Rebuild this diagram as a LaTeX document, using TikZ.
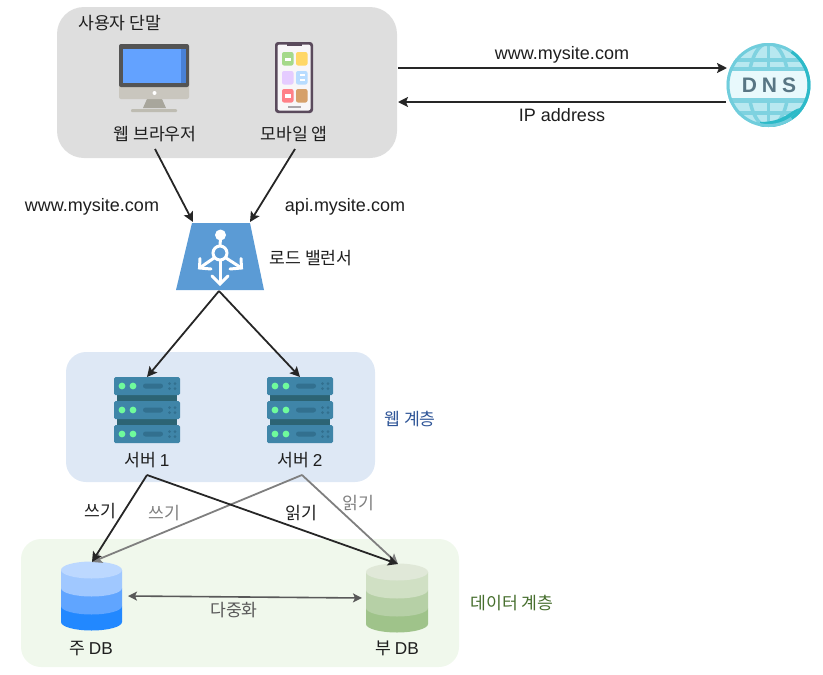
\documentclass[tikz,border=0pt]{standalone}
\usepackage{fontspec}
\setmainfont{Noto Sans CJK KR}
\newfontfamily\lat{Liberation Sans}
\usetikzlibrary{arrows.meta,calc}
\definecolor{txt}{HTML}{1E1E1E}
\definecolor{wire}{HTML}{262626}
\definecolor{greywire}{HTML}{7F7F7F}
\definecolor{dupwire}{HTML}{595959}
\definecolor{srvdark}{HTML}{2C6474}
\definecolor{srvbody}{HTML}{3F85A8}
\definecolor{srvled}{HTML}{6FFB9C}
\definecolor{srvbar}{HTML}{32708F}
\definecolor{mA}{HTML}{BCD8FF}\definecolor{mB}{HTML}{A0C8FF}\definecolor{mC}{HTML}{60A5FF}\definecolor{mD}{HTML}{2288FF}
\definecolor{sA}{HTML}{E0E8D8}\definecolor{sB}{HTML}{D0E0C4}\definecolor{sC}{HTML}{B6D0A6}\definecolor{sD}{HTML}{9FC38A}
\definecolor{globeL}{HTML}{B8E8F0}\definecolor{globeW}{HTML}{E8F9FC}\definecolor{globeG}{HTML}{7FD2E0}\definecolor{globeT}{HTML}{2CBAC8}
\definecolor{globeE}{HTML}{70CDDC}\definecolor{lbblue}{HTML}{5B9BD5}
\definecolor{termbg}{HTML}{DEDEDE}\definecolor{webbg}{HTML}{DEE8F5}\definecolor{databg}{HTML}{F0F8EC}
\definecolor{webtxt}{HTML}{2F5597}\definecolor{datatxt}{HTML}{466E2D}
\tikzset{
  x=1pt,y=-1pt,
  lbl/.style={font=\fontsize{17.2}{20}\selectfont,text=txt,inner sep=0pt,yshift=-1.5pt},
  lbllat/.style={font=\fontsize{18}{20}\selectfont\lat,text=txt,inner sep=0pt,yshift=-2pt},
  tier/.style={inner sep=0pt,outer sep=0pt},
  conn/.style={draw=wire,line width=1.8pt,-{Stealth[length=10pt,width=10pt,inset=2pt]}},
  connG/.style={draw=greywire,line width=1.8pt,-{Stealth[length=10pt,width=10pt,inset=2pt]}},
  connD/.style={draw=dupwire,line width=1.6pt,{Stealth[length=9pt,width=9pt,inset=2pt]}-{Stealth[length=9pt,width=9pt,inset=2pt]}},
  icn/.style={white,line width=3pt},
}
\newcommand{\srvicon}[1]{%
  \begin{scope}[xshift=#1 pt]
    \fill[srvdark] (3,395) rectangle (63,401);
    \fill[srvdark] (3,419) rectangle (63,425);
    \foreach \t in {377,401,425}{
      \fill[srvbody,rounded corners=1.5pt] (0,\t) rectangle (66,\t+18);
      \fill[srvled] (8,\t+9) circle (3.4);
      \fill[srvled] (19,\t+9) circle (3.4);
      \fill[srvbar,rounded corners=2.5pt] (29,\t+6.5) rectangle (49,\t+11.5);
      \foreach \dx in {55.5,61}{\foreach \dy in {6.5,11.5}{\fill[srvbar] (\dx,\t+\dy) circle (1.5);}}
    }
  \end{scope}}
\newcommand{\cyl}[7]{%
  \pgfmathsetmacro{\rx}{(#2-#1)/2}
  \fill[#7D] (#1,#5) -- (#1,#6) arc[start angle=180,end angle=0,x radius=\rx,y radius=8.5] -- (#2,#5) -- cycle;
  \fill[#7C] (#1,#4) -- (#1,#5) arc[start angle=180,end angle=0,x radius=\rx,y radius=8.5] -- (#2,#4) -- cycle;
  \fill[#7B] (#1,#3) -- (#1,#4) arc[start angle=180,end angle=0,x radius=\rx,y radius=8.5] -- (#2,#3) -- cycle;
  \fill[#7A] ({(#1+#2)/2},#3) ellipse[x radius=\rx,y radius=8.5];
}
\begin{document}
\begin{tikzpicture}
\useasboundingbox (0,0) rectangle (823,675);
% tiers
\node[tier,fill=termbg,rounded corners=27pt,minimum width=340pt,minimum height=151pt] (term) at (227,82.5) {};
\node[tier,fill=webbg,rounded corners=20pt,minimum width=309pt,minimum height=130pt] (webtier) at (220.5,417) {};
\node[tier,fill=databg,rounded corners=20pt,minimum width=438pt,minimum height=128pt] (datatier) at (240,603) {};

% monitor
\node[tier,minimum width=70pt,minimum height=68pt] (browser) at (154,78) {};
\fill[fill={rgb,255:red,168;green,166;blue,156}] (147,99) -- (162,99) -- (166,108) -- (143,108) -- cycle;
\fill[fill={rgb,255:red,190;green,188;blue,178},rounded corners=1pt] (131,109) rectangle (177,112);
\fill[fill={rgb,255:red,201;green,198;blue,190},rounded corners=2pt] (119,80) rectangle (189,99);
\fill[fill={rgb,255:red,84;green,84;blue,84},rounded corners=2pt] (119,44) rectangle (189,87);
\fill[fill={rgb,255:red,99;green,162;blue,255}] (123,49) rectangle (186,82.5);
\fill[fill={rgb,255:red,72;green,128;blue,214}] (181,49) rectangle (186,82.5);
\fill[white] (154.5,93) circle (2);
% phone
\node[tier,minimum width=38pt,minimum height=71pt] (phone) at (294,77.5) {};
\fill[fill={rgb,255:red,90;green,74;blue,92},rounded corners=3pt] (275,42) rectangle (313,113);
\fill[fill={rgb,255:red,248;green,246;blue,248},rounded corners=2pt] (277.5,44.5) rectangle (310.5,110.5);
\fill[fill={rgb,255:red,90;green,74;blue,92}] (287,43) rectangle (302,45.5);
\foreach \xa/\ya/\r/\g/\b in {282/52/165/217/138,296/52/255/215/102,282/71/229/204/255,296/71/184/220/255,282/89/255/128/136,296/89/214/160/106}{
  \fill[fill={rgb,255:red,\r;green,\g;blue,\b},rounded corners=2pt] (\xa,\ya) rectangle (\xa+11.5,\ya+13.5);}
\fill[white] (285,57.5) rectangle (290.5,61);
\fill[white] (299.5,74) rectangle (305,76);\fill[white] (299.5,78.5) rectangle (305,80.5);
\fill[white] (285,94) rectangle (290.5,98);
\fill[fill={rgb,255:red,170;green,165;blue,170}] (288,106) rectangle (301,107.5);

% DNS globe
\node[tier,circle,minimum size=84pt] (dns) at (768.5,85) {};
\begin{scope}
  \clip (768.5,85) circle (42);
  \fill[globeL] (720,40) rectangle (815,130);
  \foreach \yy/\h in {58/4,67/4,98/5,111/4}{\fill[globeG] (720,\yy) rectangle (815,\yy+\h);}
  \begin{scope}
    \clip (720,40) rectangle (815,71) (720,98) rectangle (815,130);
    \draw[globeG,line width=3.5pt] (768.5,40)--(768.5,130);
    \draw[globeG,line width=3.5pt] (768.5,85) ellipse[x radius=20,y radius=42];
  \end{scope}
  \fill[globeW] (720,71) rectangle (815,98);
  \fill[globeT] (760,122) .. controls (785,122) and (790,110) .. (800,108) -- (815,108) -- (815,130) -- (760,130) -- cycle;
\end{scope}
\draw[globeE,line width=3pt] (768.5,85) circle (40.5);
\draw[globeT,line width=3pt] (768.5,85) ++(-55:40.5) arc[start angle=-55,end angle=55,radius=40.5];
\node[inner sep=0pt,text={rgb,255:red,88;green,118;blue,132},font=\fontsize{21}{22}\selectfont\lat\bfseries] (dnstext) at (769,85) {D\hspace{5pt}N\hspace{5pt}S};

% load balancer
\node[tier,minimum width=88pt,minimum height=67pt] (lb) at (220,256.5) {};
\fill[lbblue] (192,223) -- (250,223) -- (264,290) -- (176,290) -- cycle;
\fill[white] (220.5,235) circle (5.5);
\draw[icn] (220.5,238)--(220,246);
\draw[icn] (220,253) circle (7);
\draw[icn] (220,260)--(220,283);
\draw[icn,line cap=round] (212,276)--(220,284)--(228,276);
\draw[icn] (214,258)--(199.5,268);
\draw[icn,line cap=round] (200,258.5)--(199.5,268)--(211,269);
\draw[icn] (226,258)--(241.5,268);
\draw[icn,line cap=round] (241,258.5)--(241.5,268)--(230,269);

% servers
\node[tier,minimum width=66pt,minimum height=66pt] (srvA) at (147,410) {};
\node[tier,minimum width=66pt,minimum height=66pt] (srvB) at (300,410) {};
\srvicon{114}
\srvicon{267}

% databases
\node[tier,minimum width=61pt,minimum height=70pt] (mdb) at (91.5,596) {};
\node[tier,minimum width=62pt,minimum height=69pt] (sdb) at (397,597.5) {};
\cyl{61}{122}{570}{588}{606}{622}{m}
\cyl{366}{428}{572}{590}{608}{624}{s}

% labels
\node[lbl,anchor=west] (termlabel) at (78,22) {사용자 단말};
\node[lbl] (browserlabel) at (155,133) {웹 브라우저};
\node[lbl] (phonelabel) at (294,133) {모바일 앱};
\node[lbllat] (reqlabel) at (562,53) {www.mysite.com};
\node[lbllat] (iplabel) at (562,113) {IP address};
\node[lbllat] (wwwlabel) at (92,205) {www.mysite.com};
\node[lbllat] (apilabel) at (345,205) {api.mysite.com};
\node[lbl] (lblabel) at (311,257) {로드 밸런서};
\node[lbl,text=webtxt] (webtierlabel) at (410,418) {웹 계층};
\node[lbl] (srvAlabel) at (147,459) {서버 {\lat 1}};
\node[lbl] (srvBlabel) at (300,459) {서버 {\lat 2}};
\node[lbl] (w1label) at (100,510) {쓰기};
\node[lbl,text=greywire] (w2label) at (164,512) {쓰기};
\node[lbl] (r1label) at (301,512) {읽기};
\node[lbl,text=greywire] (r2label) at (358,502) {읽기};
\node[lbl,text=datatxt] (datalabel) at (512,602) {데이터 계층};
\node[lbl,text=dupwire] (duplabel) at (234,609) {다중화};
\node[lbl] (mdblabel) at (91,647) {주 {\lat DB}};
\node[lbl] (sdblabel) at (397,647) {부 {\lat DB}};

% connector ends
\coordinate (termOut) at (398,68);
\coordinate (termIn) at (398,102);
\coordinate (dnsIn) at (727,68);
\coordinate (dnsOut) at (726,102);
\coordinate (browserOut) at (155,149);
\coordinate (phoneOut) at (295,149);
\coordinate (lbInL) at (193,222);
\coordinate (lbInR) at (250,222);
\coordinate (lbOut) at (219,291);
\coordinate (srvAIn) at (147,377);
\coordinate (srvBIn) at (300,377);
\coordinate (srvAOut) at (147,475);
\coordinate (srvBOut) at (302,475);
\coordinate (mdbIn) at (92,562);
\coordinate (sdbIn) at (398,564);
\coordinate (mdbSide) at (128,596);
\coordinate (sdbSide) at (362,598);

% connectors
\draw[conn] (termOut) -- (dnsIn);
\draw[conn] (dnsOut) -- (termIn);
\draw[conn] (browserOut) -- (lbInL);
\draw[conn] (phoneOut) -- (lbInR);
\draw[conn] (lbOut) -- (srvAIn);
\draw[conn] (lbOut) -- (srvBIn);
\draw[connG] (srvBOut) -- (mdbIn);
\draw[connG] (srvBOut) -- (sdbIn);
\draw[conn] (srvAOut) -- (mdbIn);
\draw[conn] (srvAOut) -- (sdbIn);
\draw[connD] (mdbSide) -- (sdbSide);
\end{tikzpicture}
\end{document}
